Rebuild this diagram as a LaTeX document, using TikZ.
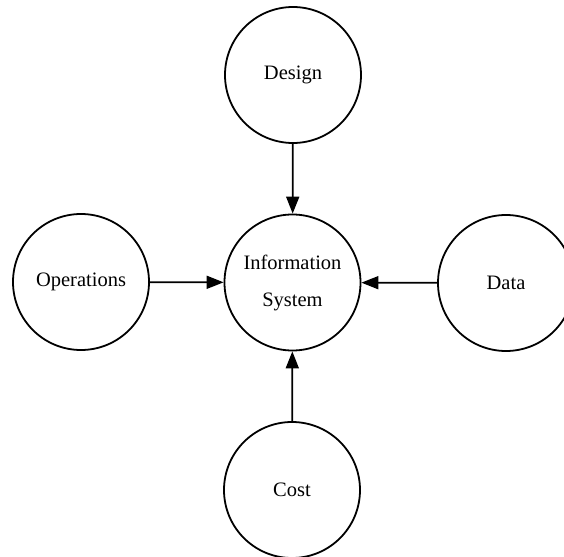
\documentclass[tikz,border=0pt]{standalone}
\usepackage{fontspec}
\setmainfont{Liberation Serif}
\usetikzlibrary{arrows.meta}

\begin{document}
\begin{tikzpicture}[x=1pt, y=-1pt, every node/.style={draw, line width=1.8pt, circle, minimum size=136pt, inner sep=0pt, align=center, font=\fontsize{20.5}{37}\selectfont},%
        every path/.style={line width=1.8pt, -{Triangle[length=17pt,width=13pt]}}]
        \useasboundingbox (0,0) rectangle (564,556);
        \node (info) at (292.5,282.5) {Information\\System};
        \node (design) at (293,75) {Design};
        \node (oper) at (81,282) {Operations};
        \node (data) at (506,283) {Data};
        \node (cost) at (292,490) {Cost};
        \draw (design) -- (info);
        \draw (oper) -- (info);
        \draw (data) -- (info);
        \draw (cost) -- (info);
    \end{tikzpicture}
\end{document}
